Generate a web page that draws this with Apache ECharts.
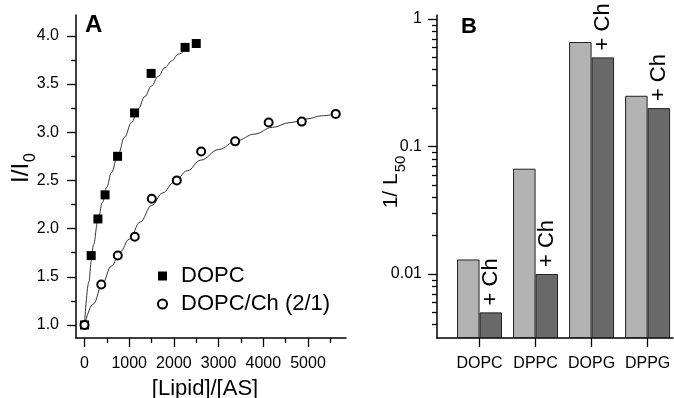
<!DOCTYPE html>
<html>
<head>
<meta charset="utf-8">
<script src="https://cdn.jsdelivr.net/npm/echarts@6/dist/echarts.min.js"></script>
<style>html,body{margin:0;padding:0;background:#fff}#c{width:674px;height:398px}</style>
</head>
<body>
<div id="c"></div>
<script>
// ---- Panel A data ----
const dopcX = [0, 150, 300, 460, 740, 1120, 1490, 2250, 2500];
const dopcY = [1.0, 1.72, 2.10, 2.35, 2.75, 3.20, 3.61, 3.88, 3.92];
const chX = [0, 375, 745, 1125, 1505, 2065, 2610, 3370, 4120, 4860, 5620];
const chY = [1.0, 1.42, 1.72, 1.915, 2.31, 2.50, 2.80, 2.905, 3.10, 3.11, 3.19];
// fitted curves
const dopcFitX = [0, 100, 150, 200, 300, 400, 500, 600, 750, 900, 1050, 1200, 1350, 1500, 1650, 1800, 1950, 2100, 2300];
const dopcFitY = [1.0, 1.45, 1.66, 1.83, 2.08, 2.27, 2.43, 2.58, 2.77, 2.95, 3.10, 3.24, 3.37, 3.48, 3.58, 3.67, 3.74, 3.81, 3.88];
const chFitX = [0, 200, 400, 600, 800, 1000, 1250, 1500, 1750, 2000, 2300, 2600, 3000, 3400, 3800, 4200, 4600, 5000, 5300, 5620];
const chFitY = [1.0, 1.22, 1.43, 1.61, 1.76, 1.89, 2.07, 2.24, 2.37, 2.48, 2.60, 2.71, 2.82, 2.91, 2.98, 3.05, 3.10, 3.14, 3.17, 3.19];
const xTicksA = [0, 1000, 2000, 3000, 4000, 5000];
const xMinorA = [500, 1500, 2500, 3500, 4500, 5500];
const yTicksA = [1.0, 1.5, 2.0, 2.5, 3.0, 3.5, 4.0];
const yMinorA = [1.25, 1.75, 2.25, 2.75, 3.25, 3.75];

// ---- Panel B data ----
const lipids = ['DOPC', 'DPPC', 'DOPG', 'DPPG'];
const invL50 = [0.013, 0.067, 0.66, 0.25];
const invL50Ch = [0.005, 0.010, 0.50, 0.20];
const yTicksB = [0.01, 0.1, 1];
const yMinorB = [0.004,0.005,0.006,0.007,0.008,0.009,0.02,0.03,0.04,0.05,0.06,0.07,0.08,0.09,0.2,0.3,0.4,0.5,0.6,0.7,0.8,0.9];

const FONT = 'Liberation Sans';
const BLACK = '#000';
const pair = (xs, ys) => xs.map((x, i) => [x, ys[i]]);

const chart = echarts.init(document.getElementById('c'), null, {renderer: 'canvas'});
const axisLine = {show: true, onZero: false, lineStyle: {color: BLACK, width: 1.5}};
const noLine = {show: false, onZero: false};
const tickStyle = {color: BLACK, width: 1.3};
const bLogMin = 0.003148, bLogMax = 1.075;

chart.setOption({
  animation: false,
  textStyle: {fontFamily: FONT},
  title: [
    {text: 'A', left: 85, top: 13, padding: 0, textStyle: {fontSize: 24, fontWeight: 'bold', color: BLACK, fontFamily: FONT}},
    {text: 'B', left: 461, top: 16, padding: 0, textStyle: {fontSize: 22, fontWeight: 'bold', color: BLACK, fontFamily: FONT}}
  ],
  legend: {
    orient: 'vertical', left: 157, top: 265, padding: 0, itemWidth: 9, itemHeight: 9, itemGap: 6,
    data: ['DOPC', 'DOPC/Ch (2/1)'],
    textStyle: {fontSize: 22, lineHeight: 22, color: BLACK, fontFamily: FONT, padding: [0, 0, 0, 9]}
  },
  grid: [
    {left: 76, top: 15, width: 270, height: 323, containLabel: false, outerBoundsMode: 'none'},
    {left: 437, top: 15, width: 236, height: 323, containLabel: false, outerBoundsMode: 'none'}
  ],
  xAxis: [
    {type: 'value', gridIndex: 0, position: 'bottom', min: -190, max: 5850,
     axisLine: axisLine, splitLine: {show: false},
     axisTick: {show: true, length: 9, customValues: xTicksA, lineStyle: tickStyle},
     axisLabel: {customValues: xTicksA, formatter: v => String(v), fontSize: 16, color: BLACK, margin: 18, fontFamily: FONT},
     name: '[Lipid]/[AS]', nameLocation: 'middle', nameGap: 40, nameMoveOverlap: false,
     nameTextStyle: {fontSize: 22, color: BLACK, fontFamily: FONT, padding: [0, 12, 0, 0]}},
    {type: 'value', gridIndex: 0, position: 'bottom', min: -190, max: 5850,
     axisLine: noLine, splitLine: {show: false},
     axisTick: {show: true, length: 5, customValues: xMinorA, lineStyle: tickStyle},
     axisLabel: {show: false}},
    {type: 'value', gridIndex: 1, position: 'bottom', min: -0.759, max: 3.453,
     axisLine: axisLine, splitLine: {show: false},
     axisTick: {show: true, length: 9, customValues: [0, 1, 2, 3], lineStyle: tickStyle},
     axisLabel: {customValues: [0, 1, 2, 3], formatter: v => lipids[Math.round(v)], fontSize: 16, color: BLACK, margin: 18, fontFamily: FONT}}
  ],
  yAxis: [
    {type: 'value', gridIndex: 0, position: 'left', min: 0.865, max: 4.216,
     axisLine: axisLine, splitLine: {show: false},
     axisTick: {show: true, length: 9, customValues: yTicksA, lineStyle: tickStyle},
     axisLabel: {customValues: yTicksA, formatter: v => v.toFixed(1), fontSize: 16, color: BLACK, margin: 17, fontFamily: FONT},
     name: 'I/I{s|0}', nameLocation: 'middle', nameGap: 43, nameRotate: 90, nameMoveOverlap: false,
     nameTextStyle: {fontSize: 24, color: BLACK, fontFamily: FONT, padding: [0, 0, 0, 17],
       rich: {s: {fontSize: 16, verticalAlign: 'bottom', padding: [0, 0, -6, 1], fontFamily: FONT, color: BLACK}}}},
    {type: 'value', gridIndex: 0, position: 'left', min: 0.865, max: 4.216,
     axisLine: noLine, splitLine: {show: false},
     axisTick: {show: true, length: 5, customValues: yMinorA, lineStyle: tickStyle},
     axisLabel: {show: false}},
    {type: 'log', logBase: 10, gridIndex: 1, position: 'left', min: bLogMin, max: bLogMax, startValue: bLogMin,
     axisLine: axisLine, splitLine: {show: false},
     axisTick: {show: true, length: 9, customValues: yTicksB, lineStyle: tickStyle},
     axisLabel: {customValues: yTicksB, formatter: v => String(+v.toPrecision(3)), fontSize: 16, color: BLACK, margin: 15, fontFamily: FONT},
     name: '1/ L{s|50}', nameLocation: 'middle', nameGap: 35, nameRotate: 90, nameMoveOverlap: false,
     nameTextStyle: {fontSize: 21, color: BLACK, fontFamily: FONT, padding: [0, 11, 0, 0],
       rich: {s: {fontSize: 15, verticalAlign: 'bottom', padding: [0, 0, -6, 1], fontFamily: FONT, color: BLACK}}}},
    {type: 'log', logBase: 10, gridIndex: 1, position: 'left', min: bLogMin, max: bLogMax,
     axisLine: noLine, splitLine: {show: false},
     axisTick: {show: true, length: 5, customValues: yMinorB, lineStyle: tickStyle},
     axisLabel: {show: false}}
  ],
  series: [
    {type: 'line', name: 'fit1', xAxisIndex: 0, yAxisIndex: 0, data: pair(dopcFitX, dopcFitY),
     showSymbol: false, smooth: 0.4, smoothMonotone: 'x', lineStyle: {color: '#333', width: 1}, z: 2, silent: true},
    {type: 'line', name: 'fit2', xAxisIndex: 0, yAxisIndex: 0, data: pair(chFitX, chFitY),
     showSymbol: false, smooth: 0.4, smoothMonotone: 'x', lineStyle: {color: '#333', width: 1}, z: 2, silent: true},
    {type: 'scatter', name: 'DOPC', xAxisIndex: 0, yAxisIndex: 0, data: pair(dopcX, dopcY),
     symbol: 'rect', symbolSize: 9, itemStyle: {color: BLACK, opacity: 1}, z: 3},
    {type: 'scatter', name: 'DOPC/Ch (2/1)', xAxisIndex: 0, yAxisIndex: 0, data: pair(chX, chY),
     symbol: 'emptyCircle', symbolSize: 8, itemStyle: {color: BLACK, borderColor: BLACK, borderWidth: 2, opacity: 1}, z: 4},
    {type: 'bar', name: 'lipid', xAxisIndex: 2, yAxisIndex: 2, data: lipids.map((c, i) => [i, invL50[i]]),
     barWidth: 22.5, barGap: '0%', itemStyle: {color: '#b3b3b3', borderColor: '#222', borderWidth: 1}},
    {type: 'bar', name: 'lipidCh', xAxisIndex: 2, yAxisIndex: 2, data: lipids.map((c, i) => [i, invL50Ch[i]]),
     barWidth: 22.5, barGap: '0%', itemStyle: {color: '#696969', borderColor: '#222', borderWidth: 1},
     label: {show: true, formatter: '+ Ch', position: 'top', rotate: 90, align: 'left', verticalAlign: 'middle',
       distance: 7, fontSize: 22, color: BLACK, fontFamily: FONT}}
  ]
});
</script>
</body>
</html>
